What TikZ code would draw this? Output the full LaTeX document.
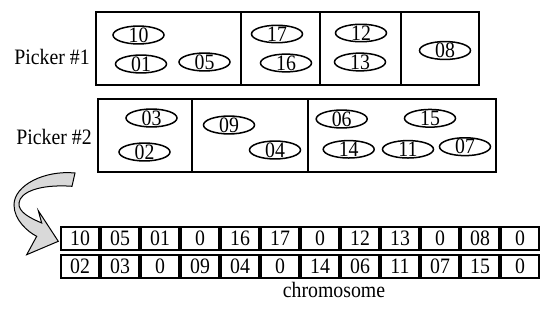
\documentclass[tikz,border=0pt]{standalone}
\usepackage{fontspec}
\setmainfont{Liberation Serif}[FakeStretch=0.9]
\usetikzlibrary{shapes.geometric}

\tikzset{
    order/.style={draw, ellipse, line width=1.5pt, minimum width=51pt, inner xsep=0pt, inner ysep=-1.1pt},
    cell/.style={draw, line width=1.1pt, minimum width=38pt, minimum height=22pt, inner sep=0pt},
    zone/.style={line width=1.7pt}
}

\begin{document}
\begin{tikzpicture}[x=1pt, y=-1pt, font=\fontsize{22}{26}\selectfont]
    \useasboundingbox (0,0) rectangle (550,313);

    % picker 1
    \draw[zone] (95.7,12.3) rectangle (479.3,85.3);
    \foreach \x in {240.7,320,400.7} {
        \draw[zone] (\x,12.3) -- (\x,85.3);
    }
    \node (pk1) at (52,57) {Picker \#1};
    \foreach \n/\x/\y in {10/138.5/35, 01/141/64, 05/204.5/62, 17/277/34, 16/286/63,
                          12/361/33, 13/360/62, 08/445/50.5} {
        \node[order] (o\n) at (\x,\y) {\n};
    }

    % picker 2
    \draw[zone] (97.7,99.3) rectangle (496,172);
    \foreach \x in {192.3,307.7} {
        \draw[zone] (\x,99.3) -- (\x,172);
    }
    \node (pk2) at (54,137) {Picker \#2};
    \foreach \n/\x/\y in {03/151.5/118, 02/144.5/152, 09/229/125, 04/275/150, 06/341.7/119,
                          15/430/118.3, 14/348.7/149.3, 11/408/149.3, 07/465/146.7} {
        \node[order] (o\n) at (\x,\y) {\n};
    }

    % chromosome
    \foreach \v [count=\i] in {10,05,01,0,16,17,0,12,13,0,08,0} {
        \node[cell] (a\i) at ({40+40*\i},238.4) {\v};
    }
    \foreach \v [count=\i] in {02,03,0,09,04,0,14,06,11,07,15,0} {
        \node[cell] (b\i) at ({40+40*\i},266.3) {\v};
    }
    \draw[line width=1.6pt] (a1.north west) rectangle (a12.south east);
    \draw[line width=1.6pt] (b1.north west) rectangle (b12.south east);
    \node[anchor=base] (chr) at (334,297.3) {chromosome};

    % curved arrow
    \draw[line width=1pt, fill=black!15, line join=miter]
        (75,173) .. controls (45,170) and (14,185) .. (14,205)
        .. controls (14,220) and (28,232) .. (36.7,236.3)
        -- (26.7,254.7) -- (58.3,241.3) -- (38.3,210.7) -- (41.7,223)
        .. controls (30,218) and (18,212) .. (19,203)
        .. controls (20,192) and (40,184) .. (72,186.3) -- cycle;
\end{tikzpicture}
\end{document}
